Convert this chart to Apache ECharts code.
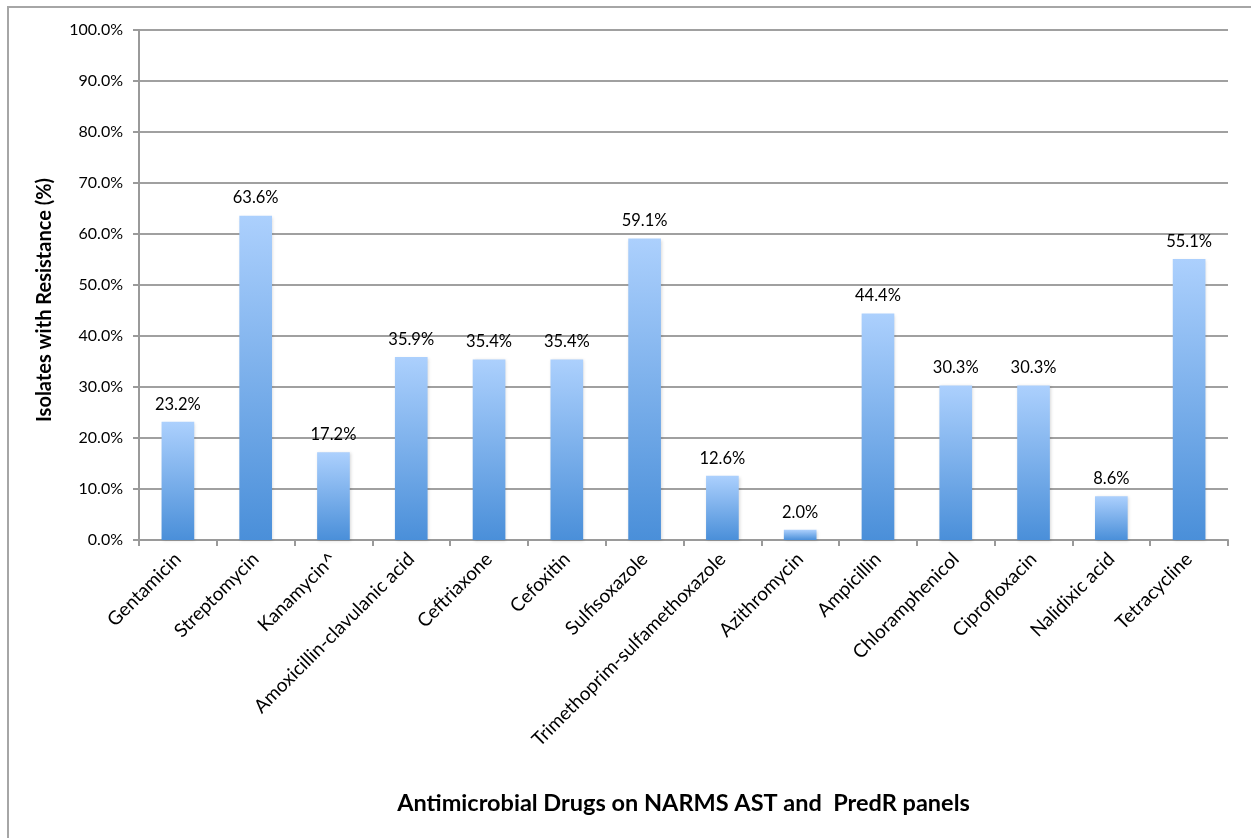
<!DOCTYPE html>
<html>
<head>
<meta charset="utf-8">
<script src="https://cdn.jsdelivr.net/npm/echarts@6/dist/echarts.min.js"></script>
<style>
html,body{margin:0;padding:0;background:#fff;}
#frame{position:absolute;left:7px;top:6px;width:1260px;height:850px;border-left:2px solid #a6a6a6;border-top:2px solid #a6a6a6;box-sizing:border-box;}
#chart{position:absolute;left:0;top:0;width:1251px;height:838px;}
</style>
</head>
<body>
<div id="frame"></div>
<div id="chart"></div>
<script>
const categories = ["Gentamicin","Streptomycin","Kanamycin^","Amoxicillin-clavulanic acid","Ceftriaxone","Cefoxitin","Sulfisoxazole","Trimethoprim-sulfamethoxazole","Azithromycin","Ampicillin","Chloramphenicol","Ciprofloxacin","Nalidixic acid","Tetracycline"];
const values = [23.2,63.6,17.2,35.9,35.4,35.4,59.1,12.6,2.0,44.4,30.3,30.3,8.6,55.1];
const yTicks = [0,10,20,30,40,50,60,70,80,90,100];
const xTitle = "Antimicrobial Drugs on NARMS AST and  PredR panels";
const yTitle = "Isolates with Resistance (%)";

const font = "Lato, 'Open Sans', sans-serif";
const chart = echarts.init(document.getElementById('chart'), null, {renderer:'canvas'});
chart.setOption({
  animation:false,
  grid:{left:139,right:23,top:30,bottom:298,containLabel:false},
  graphic:[{
    type:'text',x:45,y:300,rotation:Math.PI/2,
    style:{text:yTitle,fontFamily:font,fontSize:20,fontWeight:'bold',fill:'#000',align:'center',verticalAlign:'middle'}
  }],
  xAxis:{
    type:'category',
    data:categories,
    axisLine:{lineStyle:{color:'#9a9a9a',width:2}},
    axisTick:{show:true,length:6,lineStyle:{color:'#9a9a9a',width:2},alignWithLabel:false},
    axisLabel:{rotate:45,color:'#000',fontFamily:font,fontSize:19,margin:16,interval:0},
    name:xTitle,nameLocation:'middle',nameGap:251,
    nameTextStyle:{fontFamily:font,fontSize:23.5,fontWeight:'bold',color:'#000'}
  },
  yAxis:{
    type:'value',min:0,max:100,interval:10,
    axisLine:{show:true,lineStyle:{color:'#9a9a9a',width:2}},
    axisTick:{show:true,length:6,lineStyle:{color:'#9a9a9a',width:2}},
    splitLine:{lineStyle:{color:'#a0a0a0',width:2}},
    axisLabel:{color:'#000',fontFamily:font,fontSize:16,margin:16,
      formatter:v=>yTicks.includes(v)?v.toFixed(1)+'%':''}
  },
  series:[{
    type:'bar',
    data:values,
    barWidth:'42%',
    itemStyle:{
      color:new echarts.graphic.LinearGradient(0,0,0,1,[{offset:0,color:'#acd0fd'},{offset:1,color:'#4a8fd9'}]),
      shadowColor:'rgba(0,0,0,0.15)',shadowBlur:3,shadowOffsetX:1,shadowOffsetY:1
    },
    label:{show:true,position:'top',distance:9,color:'#000',fontFamily:font,fontSize:16.5,
      formatter:p=>p.value.toFixed(1)+'%'}
  }]
});
</script>
</body>
</html>
